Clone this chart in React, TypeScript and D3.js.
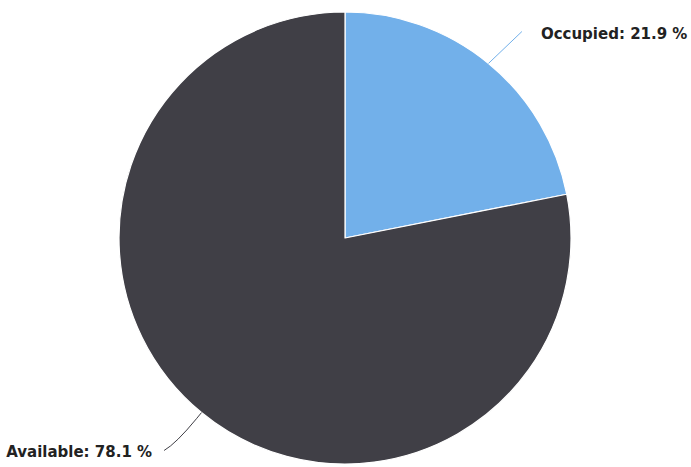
import React from "react";
import * as d3 from "d3";

const labels = ["Occupied", "Available"];
const values = [21.9, 78.1];
const colors = ["#72b0ea", "#403f46"];

const W = 691;
const H = 467;
const cx = 345;
const cy = 238;
const R = 226;

// point on a circle of radius r at pie angle a (0 = 12 o'clock, clockwise)
const polar = (a: number, r: number): [number, number] => [
  cx + r * Math.sin(a),
  cy - r * Math.cos(a),
];

export default function App() {
  const pie = d3.pie<number>().sort(null).value((d) => d);
  const arcs = pie(values);
  const arc = d3.arc<d3.PieArcDatum<number>>().innerRadius(0).outerRadius(R);

  return (
    <svg
      width={W}
      height={H}
      style={{ position: "absolute", left: 0, top: 0, background: "#fff" }}
      fontFamily="'DejaVu Sans', 'Lucida Grande', sans-serif"
    >
      <g transform={`translate(${cx},${cy})`}>
        {arcs.map((a, i) => (
          <path
            key={labels[i]}
            d={arc(a) || ""}
            fill={colors[i]}
            stroke="#ffffff"
            strokeWidth={1.2}
            strokeLinejoin="round"
          />
        ))}
      </g>
      {arcs.map((a, i) => {
        const mid = (a.startAngle + a.endAngle) / 2;
        const right = Math.sin(mid) >= 0;
        const edge = polar(mid, R);
        const near = polar(mid, R + 8);
        const far = polar(mid, R + 40);
        const text = `${labels[i]}: ${values[i].toFixed(1)} %`;
        let path: string;
        let tx: number;
        let ty: number;
        if (right) {
          const end: [number, number] = [far[0] + 8, far[1] - 1];
          path = `M${edge[0]},${edge[1]} L${end[0]},${end[1]}`;
          tx = end[0] + 19;
          ty = end[1] + 7;
        } else {
          const end: [number, number] = [far[0] - 12, far[1] + 7];
          path = `M${edge[0]},${edge[1]} L${near[0]},${near[1]} Q${far[0]},${far[1]} ${end[0]},${end[1]}`;
          tx = end[0] - 12;
          ty = end[1] + 6.5;
        }
        return (
          <g key={labels[i]}>
            <path d={path} fill="none" stroke={colors[i]} strokeWidth={1} />
            <text
              x={tx}
              y={ty}
              textAnchor={right ? "start" : "end"}
              fontSize={15}
              fontWeight="bold"
              fill="#222"
            >
              {text}
            </text>
          </g>
        );
      })}
    </svg>
  );
}
